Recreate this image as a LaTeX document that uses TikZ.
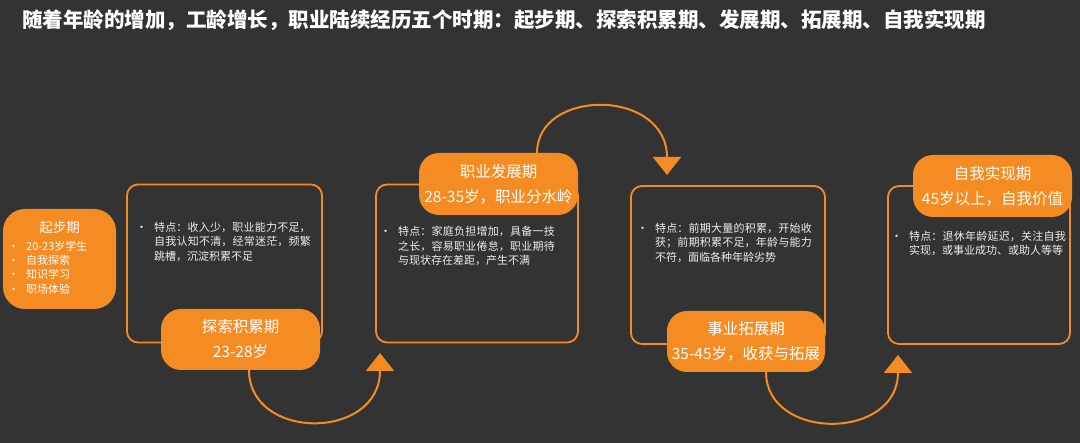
\documentclass[tikz,border=0pt]{standalone}
\usepackage{fontspec}
\setmainfont{Noto Sans CJK SC}
\XeTeXlinebreaklocale "zh"
\XeTeXlinebreakskip=0pt plus 1pt
\usetikzlibrary{arrows.meta}
\definecolor{bg}{HTML}{333333}
\definecolor{org}{HTML}{F58C23}
\definecolor{txt}{HTML}{EDEDED}
\tikzset{
  cardbox/.style={draw=org,line width=1.8pt,rounded corners=11pt,inner sep=0pt},
  pill/.style={fill=org,rounded corners=20pt,inner sep=0pt,text=white,align=center,font=\fontsize{15.5}{25}\selectfont},
  desc/.style={anchor=north west,text=txt,inner sep=0pt,text width=#1,align=left,font=\fontsize{11}{14.5}\selectfont},
  flow/.style={draw=org,line width=2pt,-{Triangle[width=28pt,length=18pt]}}
}
\newcommand{\bul}[1]{\makebox[0pt][r]{\textbullet\hspace{7pt}}#1}
\begin{document}
\begin{tikzpicture}[x=1pt,y=-1pt]
\fill[bg] (0,0) rectangle (1080,443);
\useasboundingbox (0,0) rectangle (1080,443);
\node[anchor=west,text=white,inner sep=0pt,font=\fontsize{20.5}{21}\bfseries] (title) at (22,20) {随着年龄的增加，工龄增长，职业陆续经历五个时期：起步期、探索积累期、发展期、拓展期、自我实现期};
% start
\node[fill=org,rounded corners=22pt,minimum width=113pt,minimum height=100pt] (start) at (59.5,259) {};
\node[text=white,font=\fontsize{13.5}{14}\selectfont] (starttitle) at (59.5,227) {起步期};
\node[anchor=north west,inner sep=0pt,text=white,align=left,font=\fontsize{11}{14.2}\selectfont] (startlist) at (26,241) {\bul{20-23岁学生}\\\bul{自我探索}\\\bul{知识学习}\\\bul{职场体验}};
% boxes
\node[cardbox,minimum width=195pt,minimum height=158pt] (b1) at (224.5,263.5) {};
\node[cardbox,minimum width=202pt,minimum height=158pt] (b2) at (477,263.5) {};
\node[cardbox,minimum width=194pt,minimum height=158pt] (b3) at (728,265) {};
\node[cardbox,minimum width=182pt,minimum height=158pt] (b4) at (979,265) {};
% pills
\node[pill,minimum width=159pt,minimum height=61pt] (p1) at (240.5,339.5) {探索积累期\\23-28岁};
\node[pill,minimum width=159pt,minimum height=62pt] (p2) at (498.5,184) {职业发展期\\28-35岁，职业分水岭};
\node[pill,minimum width=158pt,minimum height=61pt] (p3) at (746,341.5) {事业拓展期\\35-45岁，收获与拓展};
\node[pill,minimum width=159pt,minimum height=62pt] (p4) at (992.5,186) {自我实现期\\45岁以上，自我价值};
% descriptions
\node[desc=162pt] (d1) at (154,222) {\bul{特点：收入少，职业能力不足，自我认知不清，经常迷茫，频繁跳槽，沉淀积累不足}};
\node[desc=162pt] (d2) at (398,226) {\bul{特点：家庭负担增加，具备一技之长，容易职业倦怠，职业期待与现状存在差距，产生不满}};
\node[desc=162pt] (d3) at (655,223) {\bul{特点：前期大量的积累，开始收获；前期积累不足，年龄与能力不符，面临各种年龄劣势}};
\node[desc=162pt] (d4) at (909,231) {\bul{特点：退休年龄延迟，关注自我实现，或事业成功、或助人等等}};
% arrows
\coordinate (a1s) at (249,370); \coordinate (a1e) at (380,353);
\coordinate (a2s) at (537,153); \coordinate (a2e) at (667,175);
\coordinate (a3s) at (766,372); \coordinate (a3e) at (898,355);
\draw[flow] (a1s) .. controls (249,441) and (380,441) .. (a1e);
\draw[flow] (a2s) .. controls (537,88) and (667,88) .. (a2e);
\draw[flow] (a3s) .. controls (766,441) and (898,441) .. (a3e);
\end{tikzpicture}
\end{document}
